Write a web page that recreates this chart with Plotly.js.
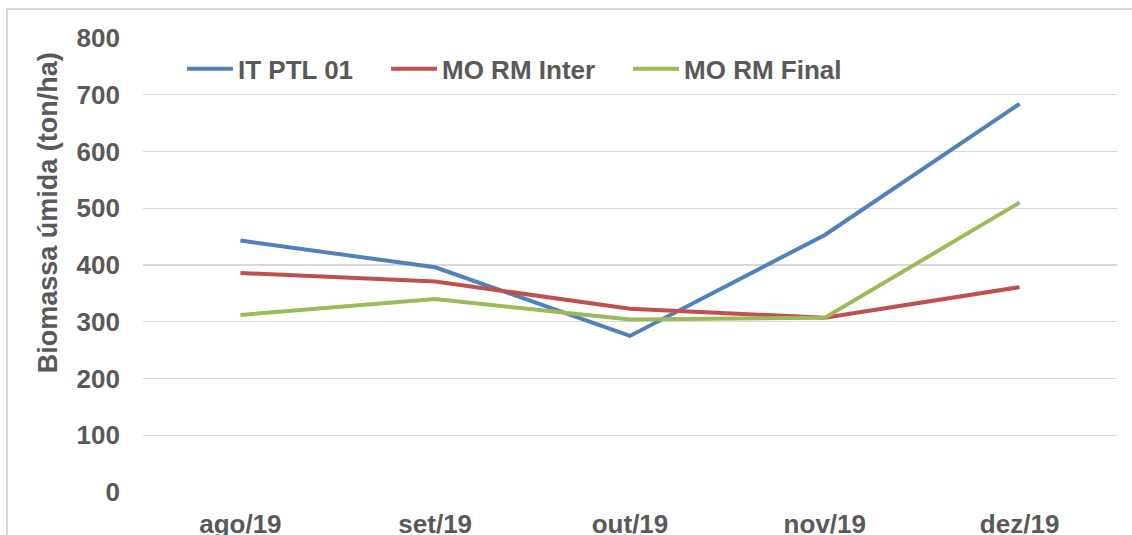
<!DOCTYPE html>
<html>
<head>
<meta charset="utf-8">
<script src="https://cdn.plot.ly/plotly-3.0.1.min.js"></script>
<style>
  html, body { margin: 0; padding: 0; background: #ffffff; overflow: hidden; }
  #wrap { position: relative; width: 1132px; height: 535px; overflow: hidden; }
  #chart { width: 1132px; height: 535px; }
  /* borda da área do gráfico do Excel (só topo e esquerda ficam visíveis) */
  #frame {
    position: absolute; left: 6px; top: 8px; width: 1200px; height: 600px;
    border-top: 2px solid #D9D9D9; border-left: 2px solid #D9D9D9;
    pointer-events: none;
  }
</style>
</head>
<body>
<div id="wrap">
  <div id="chart"></div>
  <div id="frame"></div>
</div>
<script>
// meses
const months = ['ago/19', 'set/19', 'out/19', 'nov/19', 'dez/19'];

// biomassa úmida (ton/ha)
const itPtl01 = [443, 396, 275, 453, 684];
const moRmInter = [386, 371, 323, 307, 361];
const moRmFinal = [312, 340, 304, 307, 510];

const seriesNames = ['IT PTL 01', 'MO RM Inter', 'MO RM Final'];
const seriesColors = ['#4F81BD', '#C0504D', '#9BBB59'];

const textColor = '#595959';
const gridColor = '#D9D9D9';
const fontFamily = 'Liberation Sans, Arial, sans-serif';
const boldFont = { family: fontFamily, color: textColor, size: 26, weight: 'bold' };

// uma legenda por série, para acertar o espaçamento do Excel
const legendIds = ['legend', 'legend2', 'legend3'];
const legendX = [0.04, 0.2495, 0.498];

const data = [itPtl01, moRmInter, moRmFinal].map((values, i) => ({
    x: months,
    y: values,
    type: 'scatter',
    mode: 'lines',
    name: seriesNames[i],
    legend: legendIds[i],
    line: { color: seriesColors[i], width: 4 },
    hoverinfo: 'x+y+name'
}));

const layout = {
    width: 1132,
    height: 535,
    margin: { l: 143, r: 15, t: 38, b: 43 },
    paper_bgcolor: '#ffffff',
    plot_bgcolor: '#ffffff',
    font: boldFont,
    showlegend: true,
    xaxis: {
        type: 'category',
        range: [-0.5, 4.5],
        showgrid: false,
        zeroline: false,
        showline: false,
        ticks: '',
        ticklabelstandoff: 14,
        tickfont: boldFont,
        fixedrange: true
    },
    yaxis: {
        range: [0, 800],
        dtick: 100,
        tick0: 0,
        showgrid: true,
        gridcolor: gridColor,
        gridwidth: 1.3,
        zeroline: false,
        showline: false,
        ticks: '',
        ticklabelstandoff: 22,
        tickfont: boldFont,
        fixedrange: true
    },
    annotations: [{
        text: 'Biomassa úmida (ton/ha)',
        xref: 'paper',
        yref: 'paper',
        x: -0.0975,
        y: 0.614,
        xanchor: 'center',
        yanchor: 'middle',
        textangle: -90,
        showarrow: false,
        font: { family: fontFamily, color: textColor, size: 27, weight: 'bold' }
    }]
};

legendIds.forEach((id, i) => {
    layout[id] = {
        orientation: 'h',
        x: legendX[i],
        xanchor: 'left',
        y: 0.932,
        yanchor: 'middle',
        itemwidth: 46,
        bgcolor: 'rgba(0,0,0,0)',
        font: boldFont
    };
});

Plotly.newPlot('chart', data, layout, { displayModeBar: false, staticPlot: true });
</script>
</body>
</html>
